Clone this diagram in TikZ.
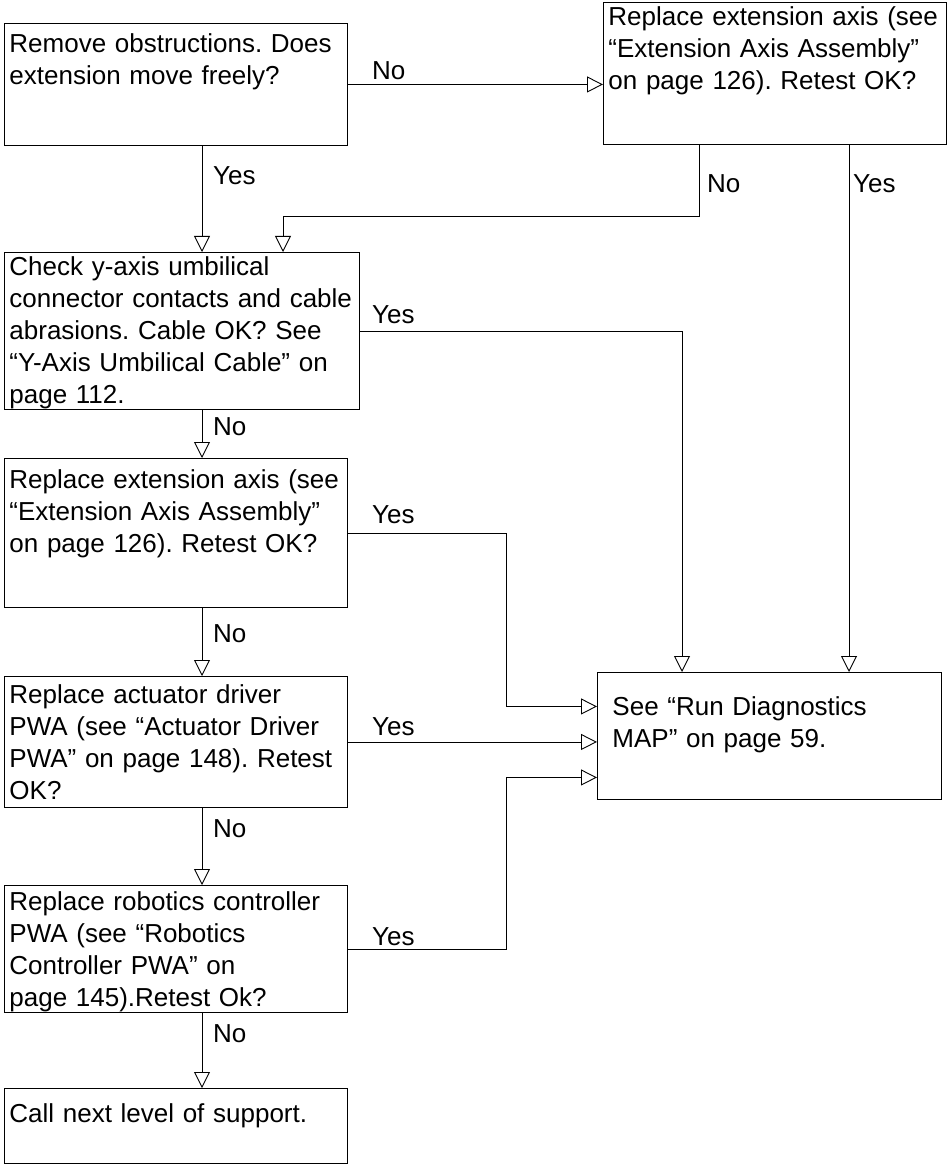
\documentclass[tikz,border=0pt]{standalone}
\usepackage{fontspec}
\setmainfont{Liberation Sans}
\usetikzlibrary{arrows.meta}
\newcommand{\chartfont}{\fontsize{26}{32}\selectfont\frenchspacing}

\begin{document}
\begin{tikzpicture}[x=1pt, y=-1pt,
  stepbox/.style={draw, line width=0.9pt, anchor=north west, align=left,
    inner ysep=0pt, inner xsep=5pt, text width=333pt, font=\chartfont},
  lbl/.style={anchor=base west, inner sep=0pt, font=\chartfont},
  flow/.style={line width=0.9pt, -{Triangle[open, length=16pt, width=16pt]}}]

  \useasboundingbox (0,0) rectangle (948,1174);

  % Left column of steps
  \node[stepbox, text height=29pt, text depth=93pt] (remove) at (4,23)
    {Remove obstructions. Does\\extension move freely?};
  \node[stepbox, text width=345pt, text height=23pt, text depth=134pt] (cable) at (4,252)
    {Check y-axis umbilical\\connector contacts and cable\\abrasions. Cable OK? See\\“Y-Axis Umbilical Cable” on\\page 112.};
  \node[stepbox, text height=30pt, text depth=119pt] (extaxis) at (4,458)
    {Replace extension axis (see\\“Extension Axis Assembly”\\on page 126). Retest OK?};
  \node[stepbox, text height=27pt, text depth=104pt] (driver) at (4,676)
    {Replace actuator driver\\PWA (see “Actuator Driver\\PWA” on page 148). Retest\\OK?};
  \node[stepbox, text height=25pt, text depth=102pt] (robot) at (4,885)
    {Replace robotics controller\\PWA (see “Robotics\\Controller PWA” on\\page 145).Retest Ok?};
  \node[stepbox, text height=34pt, text depth=41pt] (support) at (4,1088)
    {Call next level of support.};

  % Right column
  \node[stepbox, text height=23pt, text depth=119pt] (replace) at (603,2)
    {Replace extension axis (see\\“Extension Axis Assembly”\\on page 126). Retest OK?};
  \node[stepbox, inner xsep=15pt, text width=314pt, text height=43pt, text depth=84pt] (diag) at (597,672)
    {See “Run Diagnostics\\MAP” on page 59.};

  % Main trunk down the left side
  \foreach \a/\b/\ans/\ly in {remove/cable/Yes/185, cable/extaxis/No/435,
      extaxis/driver/No/642, driver/robot/No/837, robot/support/No/1042} {
    \draw[flow] ([xshift=198pt]\a.south west) -- ([xshift=198pt]\b.north west);
    \node[lbl] at (213,\ly) {\ans};
  }

  % Branches to the right
  \draw[flow] (remove.east) -- (remove.east -| replace.west);
  \node[lbl] at (372,80) {No};

  \draw[flow] ([xshift=96pt]replace.south west) -- ++(0,72) -| ([xshift=279pt]cable.north west);
  \node[lbl] at (707,193) {No};
  \draw[flow] ([xshift=246pt]replace.south west) -- ([xshift=252pt]diag.north west);
  \node[lbl] at (853,193) {Yes};

  \draw[flow] (cable.east) -| ([xshift=85pt]diag.north west);
  \node[lbl] at (372,323) {Yes};

  \draw[flow] (extaxis.east) -- ++(159,0) |- ([yshift=29.5pt]diag.west);
  \node[lbl] at (372,523) {Yes};

  \draw[flow] (driver.east) -- (driver.east -| diag.west);
  \node[lbl] at (372,735) {Yes};

  \draw[flow] (robot.east) -- ++(159,0) |- ([yshift=-41.5pt]diag.west);
  \node[lbl] at (372,945) {Yes};

\end{tikzpicture}
\end{document}
